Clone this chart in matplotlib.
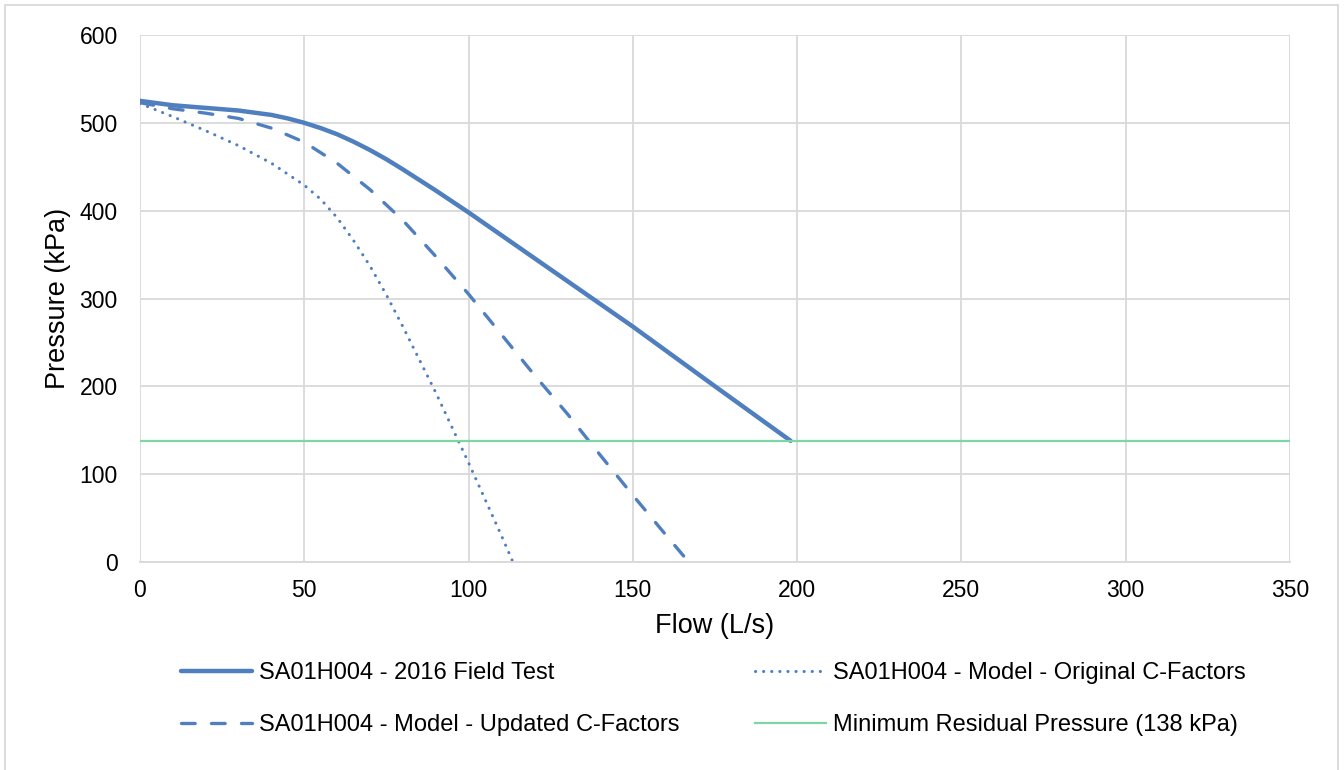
import matplotlib
matplotlib.use("Agg")
import matplotlib.pyplot as plt
from matplotlib.patches import Rectangle

plt.rcParams['font.family'] = ['Liberation Sans', 'DejaVu Sans']

# field test curve
field_x = [0, 10, 20, 30, 40, 45, 50, 55, 60, 65, 70, 75, 80, 85, 90, 100, 125, 150, 175, 198]
field_y = [525, 520, 517, 514, 509, 505, 500, 494, 487, 478.5, 469, 458.5, 447, 435, 423, 398, 333, 268, 200, 138]

# model, original C-factors
orig_x = [0, 10, 20, 30, 40, 50, 55, 60, 65, 70, 75, 80, 90, 100, 110, 113.5]
orig_y = [522, 507, 491, 474, 454, 429, 413, 392, 366, 337, 304, 268, 193, 113, 30, 0]

# model, updated C-factors
upd_x = [0, 10, 20, 30, 40, 50, 60, 70, 80, 90, 100, 110, 120, 130, 140, 150, 160, 167]
upd_y = [523, 516, 511, 505, 494, 478, 454, 424, 389, 348, 305, 259, 213, 169, 122, 76, 31, 0]

min_pressure = 138
x_range = [0, 350]

blue = "#4F7FBE"
green = "#7DD6A3"
grid = "#D9D9D9"

fig = plt.figure(figsize=(13.44, 7.7), dpi=100)
ax = fig.add_axes([140/1344, 1-562/770, 1150/1344, 527/770])

ax.plot(field_x, field_y, color=blue, lw=3.2, solid_capstyle='round', solid_joinstyle='round',
        label="SA01H004 - 2016 Field Test")
ax.plot(upd_x, upd_y, color=blue, lw=2.4, ls=(0, (4.1, 4.9)), dash_capstyle='round',
        label="SA01H004 - Model - Updated C-Factors")
ax.plot(orig_x, orig_y, color=blue, lw=2.2, ls=(0, (0.05, 2.6)), dash_capstyle='round',
        label="SA01H004 - Model - Original C-Factors")
ax.plot(x_range, [min_pressure, min_pressure], color=green, lw=1.6,
        label="Minimum Residual Pressure (138 kPa)")

ax.set_xlim(0, 350)
ax.set_ylim(0, 600)
ax.set_xticks(range(0, 351, 50))
ax.set_yticks(range(0, 601, 100))
ax.grid(True, color=grid, lw=1.3)
ax.set_axisbelow(True)
for s in ax.spines.values():
    s.set_visible(False)
ax.spines['bottom'].set_visible(True)
ax.spines['bottom'].set_color(grid)
ax.spines['bottom'].set_linewidth(1.3)
ax.tick_params(length=0, labelsize=16.5)
ax.tick_params(axis='x', pad=12)
ax.tick_params(axis='y', pad=16)
ax.set_xlabel("Flow (L/s)", fontsize=19.5, labelpad=8)
ax.set_ylabel("Pressure (kPa)", fontsize=19.5, labelpad=6)

leg = ax.legend(loc='upper left', bbox_to_anchor=(160/1344, 1-641/770), bbox_transform=fig.transFigure,
                ncol=2, frameon=False, fontsize=17, handlelength=3.0, handletextpad=0.3,
                columnspacing=3.2, labelspacing=1.25)

fig.patches.append(Rectangle((5/1344, -0.01), 1333/1344, 1.01 - 5/770, transform=fig.transFigure,
                             fill=False, edgecolor=grid, lw=1.3))

fig.savefig("out.png", dpi=100)
